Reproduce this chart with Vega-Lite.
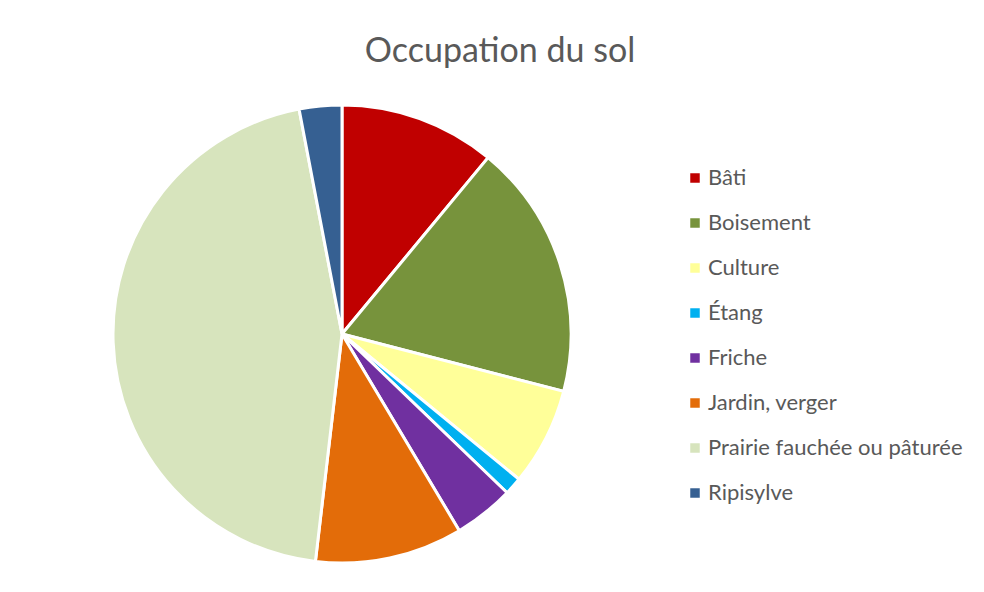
{
  "$schema": "https://vega.github.io/schema/vega-lite/v6.json",
  "autosize": "none",
  "width": 458,
  "height": 458,
  "padding": {"left": 113, "top": 105, "right": 413, "bottom": 29},
  "background": "white",
  "title": {
    "text": "Occupation du sol",
    "font": "Lato",
    "fontSize": 34,
    "fontWeight": "normal",
    "color": "#595959",
    "anchor": "middle",
    "dx": 158,
    "offset": 30
  },
  "data": {
    "values": [
      {"occupation": "Bâti", "ordre": 1, "part": 11.0},
      {"occupation": "Boisement", "ordre": 2, "part": 18.0},
      {"occupation": "Culture", "ordre": 3, "part": 6.9},
      {"occupation": "Étang", "ordre": 4, "part": 1.25},
      {"occupation": "Friche", "ordre": 5, "part": 4.25},
      {"occupation": "Jardin, verger", "ordre": 6, "part": 10.4},
      {"occupation": "Prairie fauchée ou pâturée", "ordre": 7, "part": 45.1},
      {"occupation": "Ripisylve", "ordre": 8, "part": 3.0}
    ]
  },
  "mark": {"type": "arc", "outerRadius": 229, "stroke": "white", "strokeWidth": 3},
  "encoding": {
    "theta": {"field": "part", "type": "quantitative", "stack": true},
    "order": {"field": "ordre", "type": "quantitative"},
    "color": {
      "field": "occupation",
      "type": "nominal",
      "scale": {
        "domain": ["Bâti", "Boisement", "Culture", "Étang", "Friche", "Jardin, verger", "Prairie fauchée ou pâturée", "Ripisylve"],
        "range": ["#C00000", "#77933C", "#FFFF99", "#00B0F0", "#7030A0", "#E36C09", "#D7E4BD", "#366092"]
      },
      "legend": {
        "title": null,
        "orient": "none",
        "legendX": 571,
        "legendY": 62,
        "symbolType": "square",
        "symbolSize": 90,
        "symbolStrokeWidth": 0,
        "labelFont": "Lato",
        "labelFontSize": 22,
        "labelColor": "#595959",
        "labelOffset": 2,
        "rowPadding": 23,
        "labelLimit": 400
      }
    }
  },
  "config": {"view": {"stroke": null}}
}
